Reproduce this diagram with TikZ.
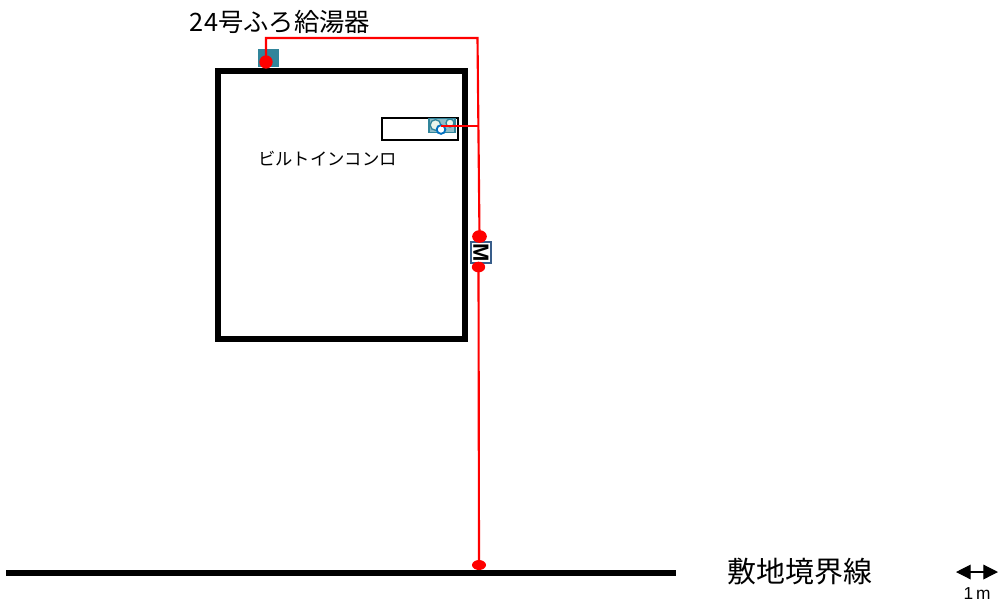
\documentclass[tikz,border=0pt]{standalone}
\usepackage{fontspec}
\setmainfont{Liberation Sans}
\newfontfamily\jpfont{Noto Sans CJK JP}
\usetikzlibrary{arrows.meta,shapes.geometric}
\definecolor{heater}{RGB}{49,133,155}
\definecolor{boxblue}{RGB}{56,93,138}
\definecolor{ringblue}{RGB}{0,112,192}
\definecolor{pale}{RGB}{235,245,235}
\tikzset{
  x=0.75pt,y=-0.75pt,
  wall/.style={draw=black,line width=4.5pt,fill=none,outer sep=0pt},
  pipe/.style={draw=red,line width=1.6pt},
  joint/.style={ellipse,fill=red,draw=none,inner sep=0pt},
  label/.style={inner sep=0pt,text=black,font=\jpfont},
}
\begin{document}
\begin{tikzpicture}
\useasboundingbox (0,0) rectangle (998,608);
% building and boundary
\node[wall,minimum width=185.25pt,minimum height=201pt,inner sep=0pt] (house) at (341.5,204.5) {};
\coordinate (bl) at (6,573);
\coordinate (br) at (676,573);
\draw[draw=black,line width=4.2pt] (bl) -- (br);
% heater
\node[fill=heater,minimum width=15.75pt,minimum height=13.5pt,inner sep=0pt] (heater) at (268.5,58) {};
% stove
\node[draw=black,line width=1.5pt,minimum width=57.5pt,minimum height=16.5pt,inner sep=0pt] (stove) at (420,129) {};
\node[fill=heater!55!white,draw=heater,line width=1pt,minimum width=19.5pt,minimum height=10.5pt,inner sep=0pt] (burner) at (442,125.5) {};
\node[circle,fill=pale,draw=heater,line width=1pt,minimum size=8pt,inner sep=0pt] (b1) at (435.5,125) {};
\node[circle,fill=pale,draw=heater,line width=1pt,minimum size=6pt,inner sep=0pt] (b2) at (450,123) {};
\node[circle,fill=white,draw=ringblue,line width=1.4pt,minimum size=6.5pt,inner sep=0pt] (b3) at (441,129.5) {};
% meter
\node[draw=boxblue,fill=white,line width=1.5pt,minimum width=14.5pt,minimum height=15.5pt,inner sep=0pt] (meter) at (481,252.5) {};
\node[label,rotate=-90,font=\bfseries\fontsize{16.5pt}{16.5pt}\selectfont] (mtext) at (481,253) {M};
% joints
\node[joint,minimum width=10pt,minimum height=10pt] (j0) at (266,62) {};
\node[joint,minimum width=11pt,minimum height=9.5pt] (j1) at (479.5,236.5) {};
\node[joint,minimum width=10pt,minimum height=8pt] (j2) at (478.5,267) {};
\node[joint,minimum width=10.5pt,minimum height=7.5pt] (j3) at (479,565) {};
% pipes
\coordinate (c1) at (266,38);
\coordinate (c2) at (477.5,38);
\coordinate (c3) at (478,126);
\coordinate (c4) at (441,126);
\draw[pipe] (j0.center) -- (c1) -- (c2) -- (j1.center);
\draw[pipe] (j2.center) -- (j3.center);
\draw[pipe] (c3) -- (c4);
% labels
\node[label,font=\jpfont\fontsize{19pt}{21pt}\selectfont] (t1) at (280,22) {24号ふろ給湯器};
\node[label,font=\jpfont\fontsize{13pt}{15pt}\selectfont] (t2) at (327.5,159) {ビルトインコンロ};
\node[label,font=\jpfont\fontsize{21.7pt}{24pt}\selectfont] (t3) at (800,572) {敷地境界線};
% scale
\coordinate (s1) at (956,572);
\coordinate (s2) at (998,572);
\draw[black,line width=.9pt,{Triangle[length=11pt,width=11pt]}-{Triangle[length=11pt,width=11pt]}] (s1) -- (s2);
\node[label,font=\fontsize{13pt}{14pt}\selectfont] (t4) at (977,594) {1\,m};
\end{tikzpicture}
\end{document}
